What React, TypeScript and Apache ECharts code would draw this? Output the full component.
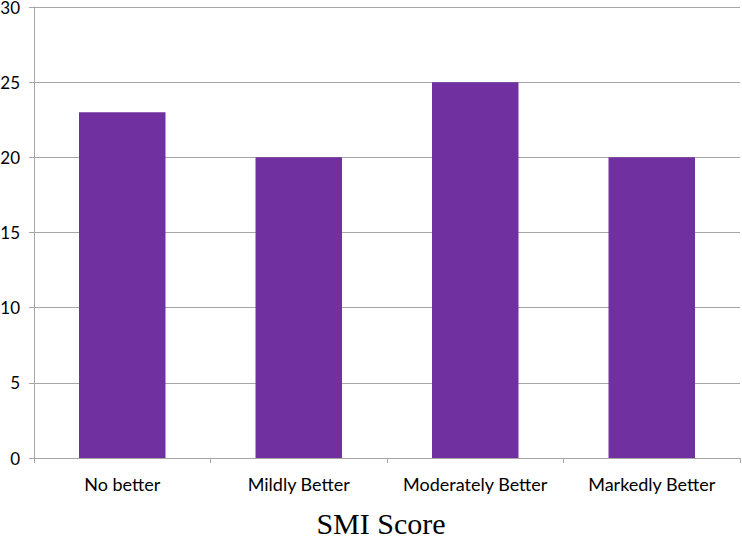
import React, { useEffect, useRef } from "react";
import * as echarts from "echarts";

const categories = ["No better", "Mildly Better", "Moderately Better", "Markedly Better"];
const values = [23, 20, 25, 20];
const yTicks = { min: 0, max: 30, interval: 5 };
const xTitle = "SMI Score";

export default function App() {
  const ref = useRef<HTMLDivElement>(null);
  useEffect(() => {
    if (!ref.current) return;
    const chart = echarts.init(ref.current, null, { renderer: "svg" });
    chart.setOption({
      animation: false,
      backgroundColor: "#ffffff",
      grid: { left: 34, right: 2, top: 7, bottom: 80, outerBoundsMode: "none", containLabel: false },
      xAxis: {
        type: "category",
        data: categories,
        name: xTitle,
        nameLocation: "middle",
        nameGap: 50,
        nameTextStyle: { fontFamily: "Liberation Serif", fontSize: 30, color: "#000", padding: [0, 12, 0, 0] },
        axisLine: { lineStyle: { color: "#a6a6a6", width: 1 } },
        axisTick: { show: true, length: 5, lineStyle: { color: "#a6a6a6" } },
        axisLabel: { fontFamily: "Lato", fontSize: 18, color: "#000", margin: 17, interval: 0 },
      },
      yAxis: {
        type: "value",
        min: yTicks.min,
        max: yTicks.max,
        interval: yTicks.interval,
        axisLine: { show: true, lineStyle: { color: "#a6a6a6", width: 1 } },
        axisTick: { show: true, length: 5, lineStyle: { color: "#a6a6a6" } },
        splitLine: { lineStyle: { color: "#a6a6a6", width: 1 } },
        axisLabel: { fontFamily: "Lato", fontSize: 17, color: "#000", margin: 14 },
      },
      series: [
        {
          type: "bar",
          data: values,
          barCategoryGap: "51%",
          itemStyle: { color: "#7030A0" },
        },
      ],
    });
    return () => chart.dispose();
  }, []);
  return (
    <div
      ref={ref}
      style={{ position: "fixed", left: 0, top: 0, width: 742, height: 538 }}
    />
  );
}
